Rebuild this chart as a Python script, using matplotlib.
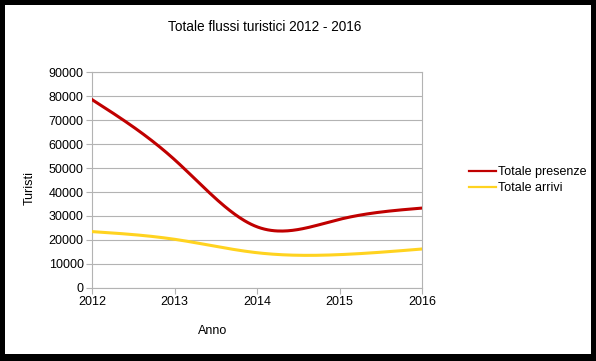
import numpy as np
import matplotlib
matplotlib.use("Agg")
import matplotlib.pyplot as plt
from matplotlib.patches import Rectangle

plt.rcParams['font.family'] = ['Liberation Sans', 'DejaVu Sans']

# data
anni = [2012, 2013, 2014, 2015, 2016]
presenze = [78500, 53500, 25500, 28600, 33300]
arrivi = [23500, 20300, 14700, 13900, 16250]
y_ticks = [0, 10000, 20000, 30000, 40000, 50000, 60000, 70000, 80000, 90000]


def natural_spline(x, y, n=200):
    # natural cubic spline through the points, like the office "cubic spline" option
    x = np.asarray(x, float)
    y = np.asarray(y, float)
    k = len(x)
    h = np.diff(x)
    A = np.zeros((k, k))
    b = np.zeros(k)
    A[0, 0] = 1
    A[-1, -1] = 1
    for i in range(1, k - 1):
        A[i, i - 1] = h[i - 1]
        A[i, i] = 2 * (h[i - 1] + h[i])
        A[i, i + 1] = h[i]
        b[i] = 6 * ((y[i + 1] - y[i]) / h[i] - (y[i] - y[i - 1]) / h[i - 1])
    m = np.linalg.solve(A, b)
    xs = np.linspace(x[0], x[-1], n)
    ys = np.empty_like(xs)
    for j, t in enumerate(xs):
        i = min(np.searchsorted(x, t, side='right') - 1, k - 2)
        a, c = x[i], x[i + 1]
        hi = c - a
        ys[j] = (m[i] * (c - t) ** 3 / (6 * hi) + m[i + 1] * (t - a) ** 3 / (6 * hi)
                 + (y[i] / hi - m[i] * hi / 6) * (c - t)
                 + (y[i + 1] / hi - m[i + 1] * hi / 6) * (t - a))
    return xs, ys


fig = plt.figure(figsize=(5.96, 3.61), dpi=100)
fig.patch.set_facecolor('black')
fig.add_artist(Rectangle((5 / 596, 7 / 361), 586 / 596, 349 / 361,
                         transform=fig.transFigure, facecolor='white',
                         edgecolor='none', zorder=-5))

ax = fig.add_axes([92 / 596, 73 / 361, 330 / 596, 216 / 361])
ax.set_facecolor('white')

xs, ys = natural_spline(anni, presenze)
ax.plot(xs, ys, color='#c00000', lw=2.2, label='Totale presenze', zorder=3)
xs, ys = natural_spline(anni, arrivi)
ax.plot(xs, ys, color='#ffd320', lw=2.2, label='Totale arrivi', zorder=3)

ax.set_xlim(anni[0], anni[-1])
ax.set_ylim(y_ticks[0], y_ticks[-1])
ax.set_xticks(anni)
ax.set_yticks(y_ticks)
ax.tick_params(labelsize=9, length=4, color='#b3b3b3', pad=2, labelcolor='black')
ax.grid(axis='y', color='#b3b3b3', lw=0.8)
ax.set_axisbelow(True)
for s in ax.spines.values():
    s.set_color('#b3b3b3')
    s.set_linewidth(0.8)

fig.text(265 / 596, 1 - 27 / 361, 'Totale flussi turistici 2012 - 2016',
         ha='center', va='center', fontsize=9.8)
fig.text(30 / 596, 1 - 188 / 361, 'Turisti', rotation=90,
         ha='center', va='center', fontsize=9)
fig.text(213 / 596, 1 - 331 / 361, 'Anno', ha='center', va='center', fontsize=9)

leg = ax.legend(loc='center left', bbox_to_anchor=(463 / 596, 1 - 180 / 361),
                bbox_transform=fig.transFigure, frameon=False, fontsize=9,
                handlelength=2.1, handletextpad=0.2, labelspacing=0.3, borderpad=0)
for ln in leg.get_lines():
    ln.set_linewidth(1.6)

fig.savefig('out.png', dpi=100, facecolor=fig.get_facecolor())
